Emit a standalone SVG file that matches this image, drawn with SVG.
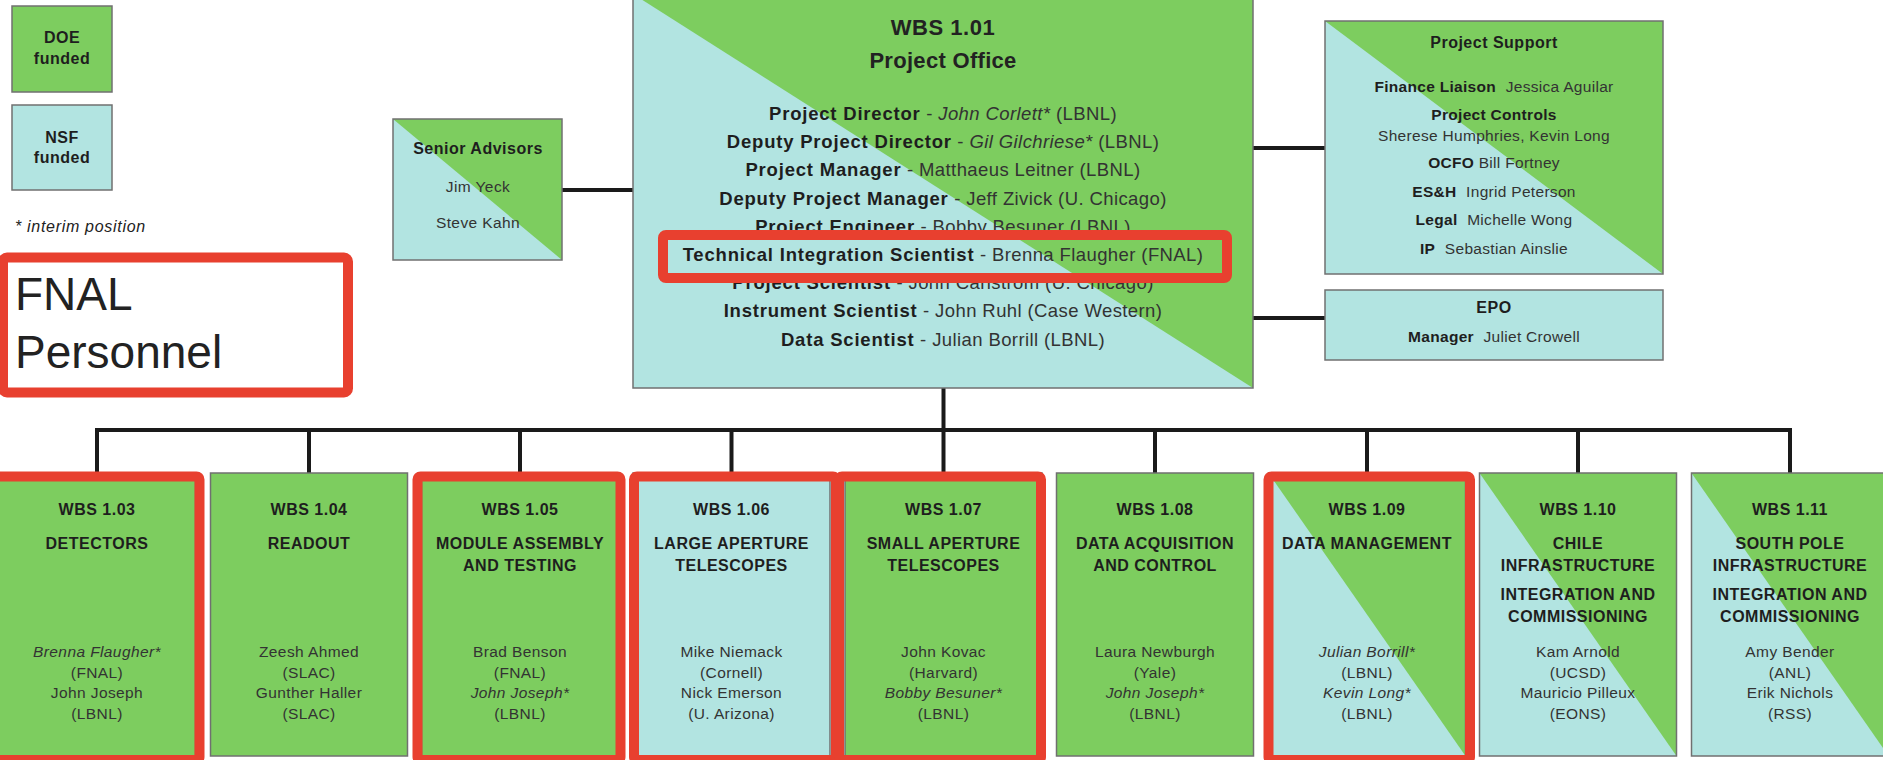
<svg xmlns="http://www.w3.org/2000/svg" width="1883" height="760" viewBox="0 0 1883 760">
<style>
.g{fill:#7dcd5f}
.t{fill:#b2e4e1}
.bx{fill:none;stroke:#707070;stroke-width:1.5}
.hl{fill:none;stroke:#e8402f;stroke-width:10}
.cn{stroke:#1a1a1a;stroke-width:4;fill:none}
text{font-family:"Liberation Sans",Arial,sans-serif;fill:#222}
.h{font-weight:bold;font-size:16px;letter-spacing:0.5px;text-anchor:middle;fill:#1e1e1e}
.n{font-size:15.5px;letter-spacing:0.4px;text-anchor:middle;fill:#333}
.i{font-style:italic}
.po{font-size:18.5px;text-anchor:middle;fill:#333;letter-spacing:0.4px}
.pb{font-weight:bold;fill:#1e1e1e;letter-spacing:0.8px}
.ps{font-size:15.5px;text-anchor:middle;fill:#333;letter-spacing:0.3px}
.psb{font-weight:bold;fill:#1e1e1e}
</style>
<rect width="1883" height="760" fill="#ffffff"/>

<g id="legend">
  <rect class="g" x="12" y="6" width="100" height="86"/>
  <rect class="bx" x="12" y="6" width="100" height="86"/>
  <text class="h" x="62" y="43" font-size="15">DOE</text>
  <text class="h" x="62" y="64" font-size="15">funded</text>
  <rect class="t" x="12" y="105" width="100" height="85"/>
  <rect class="bx" x="12" y="105" width="100" height="85"/>
  <text class="h" x="62" y="143" font-size="15">NSF</text>
  <text class="h" x="62" y="163" font-size="15">funded</text>
  <text x="15" y="232" font-size="16" font-style="italic" fill="#666" letter-spacing="0.7">* interim position</text>
</g>

<g id="fnal-personnel">
  <rect x="3" y="257.5" width="345" height="135" rx="4" fill="#ffffff" stroke="#e8402f" stroke-width="10"/>
  <text x="15" y="310" font-size="46" fill="#111">FNAL</text>
  <text x="15" y="368" font-size="46" fill="#111">Personnel</text>
</g>

<g id="connectors">
  <path class="cn" d="M562 190H633"/>
  <path class="cn" d="M1253 148H1325"/>
  <path class="cn" d="M1253 318H1325"/>
  <path class="cn" d="M943.5 388V430"/>
  <path class="cn" d="M95 430H1792"/>
  <path class="cn" d="M97 430V473M309 430V473M520 430V473M731.5 430V473M943.5 430V473M1155 430V473M1367 430V473M1578 430V473M1790 430V473"/>
</g>

<g id="senior-advisors">
  <rect class="t" x="393" y="119" width="169" height="141"/>
  <polygon class="g" points="393,119 562,119 562,260"/>
  <rect class="bx" x="393" y="119" width="169" height="141"/>
  <text class="h" x="478" y="154" font-size="16.5">Senior Advisors</text>
  <text class="n" x="478" y="192">Jim Yeck</text>
  <text class="n" x="478" y="228">Steve Kahn</text>
</g>

<g id="project-office">
  <rect class="t" x="633" y="-6" width="620" height="394"/>
  <polygon class="g" points="633,-6 1253,-6 1253,388"/>
  <rect class="bx" x="633" y="-6" width="620" height="394"/>
  <text x="943" y="35" font-size="22" font-weight="bold" text-anchor="middle" fill="#1e1e1e" letter-spacing="0.5">WBS 1.01</text>
  <text x="943" y="68" font-size="22" font-weight="bold" text-anchor="middle" fill="#1e1e1e" letter-spacing="0.3">Project Office</text>
  <text class="po" x="943" y="120"><tspan class="pb">Project Director</tspan> - <tspan class="i">John Corlett*</tspan> (LBNL)</text>
  <text class="po" x="943" y="148.2"><tspan class="pb">Deputy Project Director</tspan> - <tspan class="i">Gil Gilchriese*</tspan> (LBNL)</text>
  <text class="po" x="943" y="176.4"><tspan class="pb">Project Manager</tspan> - Matthaeus Leitner (LBNL)</text>
  <text class="po" x="943" y="204.6"><tspan class="pb">Deputy Project Manager</tspan> - Jeff Zivick (U. Chicago)</text>
  <text class="po" x="943" y="232.8"><tspan class="pb">Project Engineer</tspan> - Bobby Besuner (LBNL)</text>
  <text class="po" x="943" y="261"><tspan class="pb">Technical Integration Scientist</tspan> - Brenna Flaugher (FNAL)</text>
  <text class="po" x="943" y="289.2"><tspan class="pb">Project Scientist</tspan> - John Carlstrom (U. Chicago)</text>
  <text class="po" x="943" y="317.4"><tspan class="pb">Instrument Scientist</tspan> - John Ruhl (Case Western)</text>
  <text class="po" x="943" y="345.6"><tspan class="pb">Data Scientist</tspan> - Julian Borrill (LBNL)</text>
  <rect class="hl" x="663" y="235" width="564" height="43" rx="3"/>
</g>

<g id="project-support">
  <rect class="t" x="1325" y="21" width="338" height="253"/>
  <polygon class="g" points="1325,21 1663,21 1663,274"/>
  <rect class="bx" x="1325" y="21" width="338" height="253"/>
  <text class="h" x="1494" y="48" font-size="16.5" letter-spacing="0.3">Project Support</text>
  <text class="ps" x="1494" y="92"><tspan class="psb">Finance Liaison</tspan><tspan dx="5"> Jessica Aguilar</tspan></text>
  <text class="ps" x="1494" y="120"><tspan class="psb">Project Controls</tspan></text>
  <text class="ps" x="1494" y="141">Sherese Humphries, Kevin Long</text>
  <text class="ps" x="1494" y="168"><tspan class="psb">OCFO</tspan> Bill Fortney</text>
  <text class="ps" x="1494" y="197"><tspan class="psb">ES&amp;H</tspan><tspan dx="5"> Ingrid Peterson</tspan></text>
  <text class="ps" x="1494" y="225"><tspan class="psb">Legal</tspan><tspan dx="5"> Michelle Wong</tspan></text>
  <text class="ps" x="1494" y="254"><tspan class="psb">IP</tspan><tspan dx="5"> Sebastian Ainslie</tspan></text>
</g>

<g id="epo">
  <rect class="t" x="1325" y="290" width="338" height="70"/>
  <rect class="bx" x="1325" y="290" width="338" height="70"/>
  <text class="h" x="1494" y="313" font-size="16.5">EPO</text>
  <text class="ps" x="1494" y="342"><tspan class="psb">Manager</tspan><tspan dx="5"> Juliet Crowell</tspan></text>
</g>

<g id="wbs-1-03">
  <rect class="g" x="-1.5" y="473" width="197" height="283"/>
  <rect class="bx" x="-1.5" y="473" width="197" height="283"/>
  <text class="h" x="97" y="515">WBS 1.03</text>
  <text class="h" x="97" y="549">DETECTORS</text>
  <text class="n i" x="97" y="657">Brenna Flaugher*</text>
  <text class="n" x="97" y="677.5">(FNAL)</text>
  <text class="n" x="97" y="698">John Joseph</text>
  <text class="n" x="97" y="718.5">(LBNL)</text>
</g>

<g id="wbs-1-04">
  <rect class="g" x="210.5" y="473" width="197" height="283"/>
  <rect class="bx" x="210.5" y="473" width="197" height="283"/>
  <text class="h" x="309" y="515">WBS 1.04</text>
  <text class="h" x="309" y="549">READOUT</text>
  <text class="n" x="309" y="657">Zeesh Ahmed</text>
  <text class="n" x="309" y="677.5">(SLAC)</text>
  <text class="n" x="309" y="698">Gunther Haller</text>
  <text class="n" x="309" y="718.5">(SLAC)</text>
</g>

<g id="wbs-1-05">
  <rect class="g" x="421.5" y="473" width="197" height="283"/>
  <rect class="bx" x="421.5" y="473" width="197" height="283"/>
  <text class="h" x="520" y="515">WBS 1.05</text>
  <text class="h" x="520" y="549">MODULE ASSEMBLY</text>
  <text class="h" x="520" y="571">AND TESTING</text>
  <text class="n" x="520" y="657">Brad Benson</text>
  <text class="n" x="520" y="677.5">(FNAL)</text>
  <text class="n i" x="520" y="698">John Joseph*</text>
  <text class="n" x="520" y="718.5">(LBNL)</text>
</g>

<g id="wbs-1-06">
  <rect class="t" x="633" y="473" width="197" height="283"/>
  <rect class="bx" x="633" y="473" width="197" height="283"/>
  <text class="h" x="731.5" y="515">WBS 1.06</text>
  <text class="h" x="731.5" y="549">LARGE APERTURE</text>
  <text class="h" x="731.5" y="571">TELESCOPES</text>
  <text class="n" x="731.5" y="657">Mike Niemack</text>
  <text class="n" x="731.5" y="677.5">(Cornell)</text>
  <text class="n" x="731.5" y="698">Nick Emerson</text>
  <text class="n" x="731.5" y="718.5">(U. Arizona)</text>
</g>

<g id="wbs-1-07">
  <rect class="g" x="845" y="473" width="197" height="283"/>
  <rect class="bx" x="845" y="473" width="197" height="283"/>
  <text class="h" x="943.5" y="515">WBS 1.07</text>
  <text class="h" x="943.5" y="549">SMALL APERTURE</text>
  <text class="h" x="943.5" y="571">TELESCOPES</text>
  <text class="n" x="943.5" y="657">John Kovac</text>
  <text class="n" x="943.5" y="677.5">(Harvard)</text>
  <text class="n i" x="943.5" y="698">Bobby Besuner*</text>
  <text class="n" x="943.5" y="718.5">(LBNL)</text>
</g>

<g id="wbs-1-08">
  <rect class="g" x="1056.5" y="473" width="197" height="283"/>
  <rect class="bx" x="1056.5" y="473" width="197" height="283"/>
  <text class="h" x="1155" y="515">WBS 1.08</text>
  <text class="h" x="1155" y="549">DATA ACQUISITION</text>
  <text class="h" x="1155" y="571">AND CONTROL</text>
  <text class="n" x="1155" y="657">Laura Newburgh</text>
  <text class="n" x="1155" y="677.5">(Yale)</text>
  <text class="n i" x="1155" y="698">John Joseph*</text>
  <text class="n" x="1155" y="718.5">(LBNL)</text>
</g>

<g id="wbs-1-09">
  <rect class="t" x="1268.5" y="473" width="197" height="283"/>
  <polygon class="g" points="1268.5,473 1465.5,473 1465.5,756"/>
  <rect class="bx" x="1268.5" y="473" width="197" height="283"/>
  <text class="h" x="1367" y="515">WBS 1.09</text>
  <text class="h" x="1367" y="549">DATA MANAGEMENT</text>
  <text class="n i" x="1367" y="657">Julian Borrill*</text>
  <text class="n" x="1367" y="677.5">(LBNL)</text>
  <text class="n i" x="1367" y="698">Kevin Long*</text>
  <text class="n" x="1367" y="718.5">(LBNL)</text>
</g>

<g id="wbs-1-10">
  <rect class="t" x="1479.5" y="473" width="197" height="283"/>
  <polygon class="g" points="1479.5,473 1676.5,473 1676.5,756"/>
  <rect class="bx" x="1479.5" y="473" width="197" height="283"/>
  <text class="h" x="1578" y="515">WBS 1.10</text>
  <text class="h" x="1578" y="549">CHILE</text>
  <text class="h" x="1578" y="571">INFRASTRUCTURE</text>
  <text class="h" x="1578" y="600">INTEGRATION AND</text>
  <text class="h" x="1578" y="622">COMMISSIONING</text>
  <text class="n" x="1578" y="657">Kam Arnold</text>
  <text class="n" x="1578" y="677.5">(UCSD)</text>
  <text class="n" x="1578" y="698">Mauricio Pilleux</text>
  <text class="n" x="1578" y="718.5">(EONS)</text>
</g>

<g id="wbs-1-11">
  <rect class="t" x="1691.5" y="473" width="197" height="283"/>
  <polygon class="g" points="1691.5,473 1888.5,473 1888.5,756"/>
  <rect class="bx" x="1691.5" y="473" width="197" height="283"/>
  <text class="h" x="1790" y="515">WBS 1.11</text>
  <text class="h" x="1790" y="549">SOUTH POLE</text>
  <text class="h" x="1790" y="571">INFRASTRUCTURE</text>
  <text class="h" x="1790" y="600">INTEGRATION AND</text>
  <text class="h" x="1790" y="622">COMMISSIONING</text>
  <text class="n" x="1790" y="657">Amy Bender</text>
  <text class="n" x="1790" y="677.5">(ANL)</text>
  <text class="n" x="1790" y="698">Erik Nichols</text>
  <text class="n" x="1790" y="718.5">(RSS)</text>
</g>

<g id="fnal-highlights">
  <rect class="hl" x="-8" y="476.5" width="207.5" height="283.5" rx="3"/>
  <rect class="hl" x="417.5" y="476.5" width="203" height="283.5" rx="3"/>
  <rect class="hl" x="634" y="476.5" width="202" height="283.5" rx="3"/>
  <rect class="hl" x="839" y="476.5" width="202" height="283.5" rx="3"/>
  <rect class="hl" x="1268.5" y="476.5" width="201.5" height="283.5" rx="3"/>
</g>
</svg>
